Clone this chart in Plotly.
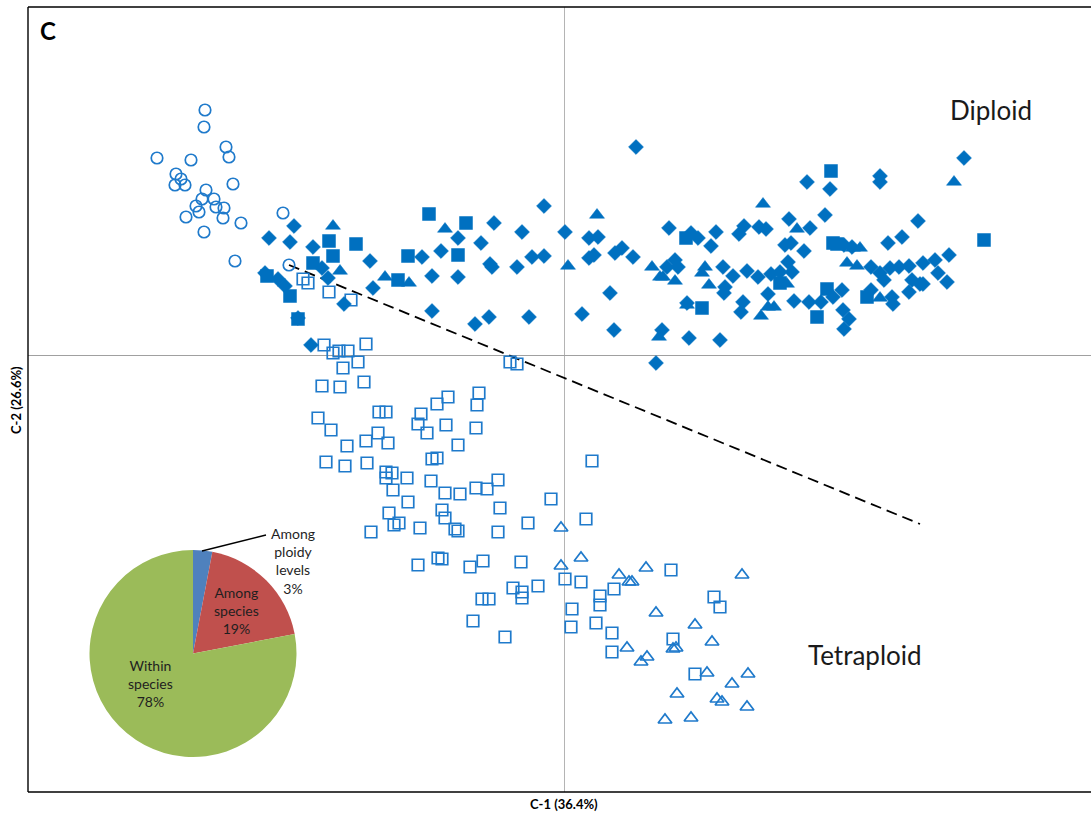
import plotly.graph_objects as go

# Principal coordinates (C-1, C-2) per individual, grouped by taxon / ploidy
circle_open_x = [-3.59, -3.60, -3.38, -3.35, -4.07, -3.73, -3.88, -3.83, -3.89, -3.79, -3.31, -3.58, -3.62,
                 -3.50, -3.68, -3.48, -3.40, -3.65, -3.78, -3.41, -3.23, -3.60, -2.81, -3.29, -2.75]
circle_open_y = [2.45, 2.28, 2.08, 1.98, 1.97, 1.95, 1.81, 1.76, 1.70, 1.70, 1.71, 1.65, 1.56,
                 1.56, 1.49, 1.48, 1.47, 1.43, 1.38, 1.37, 1.32, 1.23, 1.42, 0.94, 0.90]

square_open_x = [-2.61, -2.56, -2.35, -2.13, -2.40, -2.31, -2.25, -2.16, -1.98, -2.06, -2.21, -2.42, -2.24,
                 -2.00, -0.54, -0.47, -2.46, -2.33, -1.85, -1.78, -1.43, -1.46, -1.37, -1.27, -1.16, -0.85,
                 -0.87, -1.18, -0.88, -1.06, -2.17, -1.98, -1.86, -1.76, -2.38, -2.19, -1.97, -1.32, -1.27,
                 -1.78, -1.72, -1.78, -1.57, -1.71, -1.33, -1.19, -1.04, -0.88, -0.77, -0.66, -1.56, -1.22,
                 -1.19, -0.64, -0.13, 0.28, -1.75, -1.70, -1.65, -1.44, -1.09, -1.06, -1.93, -0.66, -0.36,
                 0.22, -1.46, -1.26, -1.22, -0.94, -0.81, -0.43, 0.01, 0.17, -0.26, -0.51, -0.42, -0.42,
                 -0.82, -0.75, -0.91, -0.59, 0.08, 0.07, 0.32, 0.36, 0.36, 0.50, 0.48, 0.48, 1.07, 1.50,
                 1.56, 1.09, 1.31]
square_open_y = [0.76, 0.72, 0.63, 0.55, 0.10, 0.02, 0.04, 0.04, 0.11, -0.07, -0.13, -0.31, -0.32,
                 -0.27, -0.07, -0.09, -0.63, -0.75, -0.57, -0.57, -0.59, -0.69, -0.78, -0.49, -0.42, -0.38,
                 -0.50, -0.70, -0.73, -0.90, -0.91, -0.86, -0.78, -0.88, -1.07, -1.11, -1.08, -1.04, -1.03,
                 -1.17, -1.18, -1.23, -1.23, -1.35, -1.26, -1.38, -1.39, -1.33, -1.34, -1.25, -1.47, -1.55,
                 -1.63, -1.53, -1.44, -1.06, -1.58, -1.70, -1.68, -1.73, -1.74, -1.76, -1.77, -1.77, -1.68,
                 -1.64, -2.10, -2.03, -2.04, -2.12, -2.06, -2.07, -2.24, -2.27, -2.31, -2.33, -2.37, -2.43,
                 -2.44, -2.44, -2.66, -2.82, -2.54, -2.72, -2.68, -2.41, -2.50, -2.34, -2.78, -2.97, -2.15, -2.42,
                 -2.52, -2.84, -3.19]

triangle_open_x = [-0.03, -0.03, 0.17, 0.55, 0.65, 0.68, 0.82, 1.78, 0.92, 1.31, 1.48, 1.09, 1.12,
                   0.63, 0.83, 0.77, 1.43, 1.84, 1.68, 1.13, 1.53, 1.58, 1.83, 1.01, 1.27]
triangle_open_y = [-1.73, -2.11, -2.03, -2.20, -2.27, -2.27, -2.13, -2.20, -2.58, -2.70, -2.87, -2.94, -2.93,
                   -2.93, -3.02, -3.07, -3.18, -3.19, -3.29, -3.39, -3.44, -3.47, -3.52, -3.65, -3.63]

diamond_x = [-2.70, -2.95, -2.74, -2.51, -1.94, -1.42, -1.32, -1.91, -1.32, -2.36, -2.20, -2.42, -2.86,
             -2.79, -2.66, -2.99, -1.23, -2.53, 0.72, -0.20, -0.70, -0.42, 0.01, -1.06, -0.83, 0.25, 0.34,
             1.05, 1.52, 1.34, 1.27, 1.47, -0.74, -0.72, -0.47, -0.32, -0.20, 0.25, 0.30, 0.51, 0.58, 0.69,
             1.03, 1.11, 1.14, 1.59, 1.61, 1.60, -1.06, 0.46, -0.89, -0.75, -0.35, 0.18, 0.50, 0.98, 1.25,
             1.56, 0.92, 1.23, 4.00, 2.43, 2.66, 3.16, 3.16, 2.61, 3.54, 2.25, 2.46, 1.80, 1.75, 1.95, 2.02,
             3.38, 3.24, 2.21, 2.27, 2.40, 2.80, 2.88, 3.85, 3.71, 3.59, 3.45, 3.35, 3.26, 3.16, 3.20, 3.07,
             1.69, 1.83, 1.94, 2.07, 2.16, 2.24, 2.28, 3.74, 3.83, 3.48, 3.56, 3.59, 3.45, 2.04, 1.79, 1.77,
             2.30, 2.45, 2.57, 2.69, 2.78, 2.79, 2.85, 2.80, 3.07, 3.28, 3.29]
diamond_y = [1.29, 1.17, 1.13, 1.08, 0.94, 0.98, 0.79, 0.67, 0.44, 0.77, 0.51, 0.87, 0.76,
             0.69, 0.37, 0.82, 1.04, 0.10, 2.08, 1.49, 1.32, 1.23, 1.23, 1.17, 1.12, 1.17, 1.18,
             1.27, 1.23, 1.17, 1.22, 1.09, 0.91, 0.88, 0.88, 0.98, 0.99, 0.97, 1.00, 1.02, 1.07, 0.98,
             0.88, 0.95, 0.88, 0.88, 0.68, 0.62, 0.78, 0.62, 0.31, 0.38, 0.38, 0.41, 0.25, 0.25, 0.17,
             0.15, -0.08, 0.52, 1.97, 1.73, 1.66, 1.79, 1.73, 1.40, 1.34, 1.36, 1.27, 1.29, 1.21, 1.28, 1.26,
             1.18, 1.12, 1.10, 1.12, 1.04, 1.10, 1.08, 1.00, 0.95, 0.92, 0.89, 0.88, 0.87, 0.82, 0.75, 0.88,
             0.79, 0.84, 0.78, 0.81, 0.83, 0.93, 0.83, 0.82, 0.73, 0.75, 0.71, 0.71, 0.63, 0.61, 0.53, 0.43,
             0.54, 0.53, 0.53, 0.58, 0.65, 0.45, 0.36, 0.26, 0.65, 0.58, 0.51]

square_x = [-1.35, -2.35, -2.08, -2.31, -2.51, -1.56, -1.66, -2.97, -2.74, -2.66, -0.98, -1.06, 1.22,
            1.38, 2.67, 2.69, 2.73, 4.20, 2.16, 2.63, 2.53, 3.03]
square_y = [1.41, 1.14, 1.11, 0.99, 0.92, 0.99, 0.75, 0.79, 0.59, 0.36, 1.32, 1.00, 1.17,
            0.47, 1.84, 1.12, 1.11, 1.15, 0.72, 0.66, 0.38, 0.58]

triangle_x = [-2.31, -2.24, -1.79, -1.55, 0.33, -1.19, 0.04, 0.88, 0.96, 0.99, 1.11, 1.41, 1.38, 1.45,
              1.23, 0.95, 3.90, 1.99, 2.33, 2.89, 2.96, 2.83, 2.93, 2.23, 2.10, 2.04, 1.97, 3.16]
triangle_y = [1.29, 0.84, 0.78, 0.72, 1.40, 1.26, 0.89, 0.88, 0.78, 0.78, 0.74, 0.88, 0.82, 0.70,
              0.50, 0.18, 1.73, 1.51, 1.26, 1.07, 1.07, 0.92, 0.89, 0.71, 0.48, 0.48, 0.39, 0.57]

# Separation line between the diploid and tetraploid groups
divider_x = [-2.75, 3.56]
divider_y = [0.90, -1.69]

# AMOVA partition of variance
amova_labels = ["Among ploidy levels", "Among species", "Within species"]
amova_values = [3, 19, 78]
amova_colors = ["#4F81BD", "#C0504D", "#9BBB59"]

FILL = "#0070C0"
OPEN = "#1F7ACB"

fig = go.Figure()

fig.add_trace(go.Scatter(x=divider_x, y=divider_y, mode="lines",
                         line=dict(color="black", width=1.8, dash="11px,6px"),
                         hoverinfo="skip", showlegend=False))


def add_points(xs, ys, symbol, size, filled):
    if filled:
        marker = dict(symbol=symbol, size=size, color=FILL,
                      line=dict(color=FILL, width=0.5))
    else:
        marker = dict(symbol=symbol + "-open", size=size, color=OPEN,
                      line=dict(color=OPEN, width=1.7))
    fig.add_trace(go.Scatter(x=xs, y=ys, mode="markers", marker=marker,
                             showlegend=False, cliponaxis=False))


add_points(square_open_x, square_open_y, "square", 11.5, False)
add_points(triangle_open_x, triangle_open_y, "triangle-up", 12, False)
add_points(circle_open_x, circle_open_y, "circle", 11.5, False)
add_points(diamond_x, diamond_y, "diamond", 11.5, True)
add_points(square_x, square_y, "square", 13, True)
add_points(triangle_x, triangle_y, "triangle-up", 13, True)

# Inset pie of the AMOVA result
L, T, W, H = 28, 7, 1063, 785


def px_to_paper(px, py):
    return (px - L) / W, (T + H - py) / H


px0, py0 = px_to_paper(89, 757)
px1, py1 = px_to_paper(297, 550)
fig.add_trace(go.Pie(values=amova_values, labels=amova_labels, sort=False,
                     direction="clockwise", rotation=0,
                     marker=dict(colors=amova_colors, line=dict(width=0)),
                     textinfo="none", hoverinfo="label+percent", showlegend=False,
                     domain=dict(x=[px0, px1], y=[py0, py1])))

label_font = dict(family="Lato, 'Open Sans', sans-serif", size=14, color="#1f1f1f")
annotations = [
    dict(x=-2.71, y=-2.06, text=f"Among<br>ploidy<br>levels<br>{amova_values[0]}%"),
    dict(x=-3.28, y=-2.55, text=f"Among<br>species<br>{amova_values[1]}%"),
    dict(x=-4.14, y=-3.28, text=f"Within<br>species<br>{amova_values[2]}%"),
]
for a in annotations:
    a.update(xref="x", yref="y", showarrow=False, xanchor="center", yanchor="middle",
             font=label_font, align="center")

annotations += [
    dict(x=4.27, y=2.45, xref="x", yref="y", text="Diploid", showarrow=False,
         font=dict(family="Lato, sans-serif", size=26, color="#1a1a1a")),
    dict(x=3.01, y=-3.00, xref="x", yref="y", text="Tetraploid", showarrow=False,
         font=dict(family="Lato, sans-serif", size=26, color="#1a1a1a")),
    dict(x=-5.26, y=3.25, xref="x", yref="y", text="<b>C</b>", showarrow=False,
         xanchor="left", font=dict(family="Lato, sans-serif", size=24, color="black")),
    dict(x=(564 - L) / W, y=-0.0153, xref="paper", yref="paper", text="<b>C-1 (36.4%)</b>",
         showarrow=False, xanchor="center", yanchor="middle",
         font=dict(family="Lato, sans-serif", size=13, color="black")),
    dict(x=-0.0113, y=(T + H - 400) / H, xref="paper", yref="paper", text="<b>C-2 (26.6%)</b>",
         showarrow=False, textangle=-90, xanchor="center", yanchor="middle",
         font=dict(family="Lato, sans-serif", size=13, color="black")),
]

shapes = [
    # leader line for the small pie slice
    dict(type="line", xref="x", yref="y", x0=-3.62, y0=-1.96, x1=-2.98, y1=-1.80,
         line=dict(color="black", width=1.3), layer="above"),
    # frame: left, top, bottom
    dict(type="line", xref="paper", yref="paper", x0=0, y0=0, x1=0, y1=1,
         line=dict(color="black", width=1.4)),
    dict(type="line", xref="paper", yref="paper", x0=0, y0=1, x1=1.01, y1=1,
         line=dict(color="black", width=1.4)),
    dict(type="line", xref="paper", yref="paper", x0=0, y0=0, x1=1.01, y1=0,
         line=dict(color="black", width=1.4)),
]

fig.update_layout(
    width=1091, height=814,
    margin=dict(l=L, r=0, t=T, b=814 - T - H),
    paper_bgcolor="white", plot_bgcolor="white",
    annotations=annotations, shapes=shapes,
    xaxis=dict(range=[-5.36, 5.27], showgrid=False, showticklabels=False, ticks="",
               zeroline=True, zerolinecolor="#B4B4B4", zerolinewidth=1.2, showline=False),
    yaxis=dict(range=[-4.37, 3.48], showgrid=False, showticklabels=False, ticks="",
               zeroline=True, zerolinecolor="#A0A0A0", zerolinewidth=1.2, showline=False),
)

fig.write_html("out.html")
